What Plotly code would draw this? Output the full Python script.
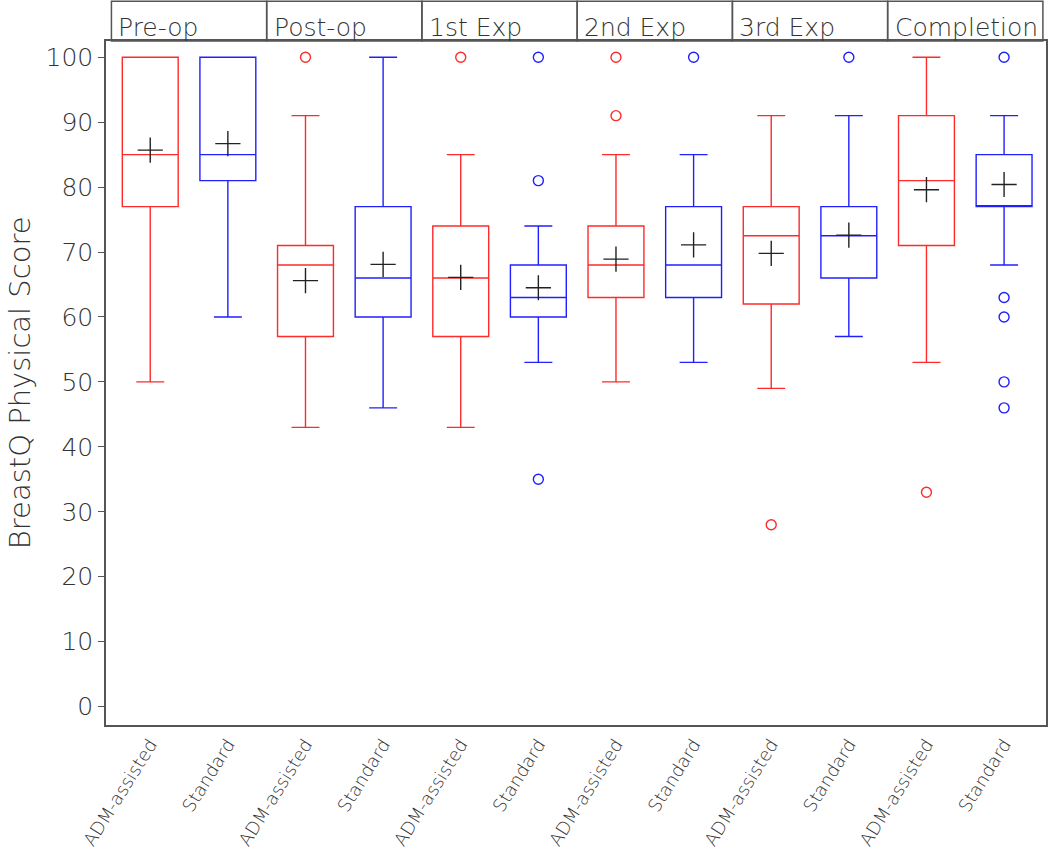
import plotly.graph_objects as go

# ---- data ----
groups = ["Pre-op", "Post-op", "1st Exp", "2nd Exp", "3rd Exp", "Completion"]
techniques = ["ADM-assisted", "Standard"]

adm_q1 = [77, 57, 57, 63, 62, 71]
adm_median = [85, 68, 66, 68, 72.5, 81]
adm_q3 = [100, 71, 74, 74, 77, 91]
adm_low = [50, 43, 43, 50, 49, 53]
adm_high = [100, 91, 85, 85, 91, 100]
adm_mean = [85.7, 65.6, 66.1, 68.9, 69.8, 79.6]
adm_outliers = [[], [100], [100], [100, 91], [28], [33]]

std_q1 = [81, 60, 60, 63, 66, 77]
std_median = [85, 66, 63, 68, 72.5, 77]
std_q3 = [100, 77, 68, 77, 77, 85]
std_low = [60, 46, 53, 53, 57, 68]
std_high = [100, 100, 74, 85, 91, 91]
std_mean = [86.7, 68.1, 64.5, 71.1, 72.6, 80.4]
std_outliers = [[], [], [100, 81, 35], [100], [100], [100, 63, 60, 50, 46]]

y_ticks = [0, 10, 20, 30, 40, 50, 60, 70, 80, 90, 100]
y_title = "BreastQ Physical Score"

# ---- style ----
FONT = "DejaVu Sans"
TXT = "#333333"
AX = "#555555"
RED = "#ff2a2a"
BLUE = "#2020ff"

W, H = 1050, 852
ML, MR, MT, MB = 106, 2, 41, 124
plot_h = H - MT - MB
plot_w = W - ML - MR
XR = [-0.57, 11.54]

fig = go.Figure()

series = [
    (0, RED, adm_q1, adm_median, adm_q3, adm_low, adm_high, adm_mean, adm_outliers),
    (1, BLUE, std_q1, std_median, std_q3, std_low, std_high, std_mean, std_outliers),
]

for t, color, q1, med, q3, lo, hi, mean, outs in series:
    pos = [2 * g + t for g in range(len(groups))]
    fig.add_trace(go.Box(
        x=pos, q1=q1, median=med, q3=q3, lowerfence=lo, upperfence=hi,
        width=0.72, whiskerwidth=0.5, boxpoints=False,
        fillcolor="rgba(0,0,0,0)", line=dict(color=color, width=1.4),
        name=techniques[t], showlegend=False,
    ))
    ox, oy = [], []
    for g, vals in enumerate(outs):
        for v in vals:
            ox.append(2 * g + t)
            oy.append(v)
    fig.add_trace(go.Scatter(
        x=ox, y=oy, mode="markers", showlegend=False,
        marker=dict(symbol="circle-open", size=10, color=color, line=dict(width=1.4)),
    ))
    fig.add_trace(go.Scatter(
        x=pos, y=mean, mode="markers", showlegend=False,
        marker=dict(symbol="cross-thin-open", size=18, color="#222222",
                    line=dict(width=1.4, color="#222222")),
    ))

# ---- header panels ----
top_paper = 1 + (MT - 1) / plot_h
shapes = []
annotations = []
for g, name in enumerate(groups):
    x0 = max(XR[0], 2 * g - 0.5)
    x1 = min(XR[1], 2 * g + 1.5)
    shapes.append(dict(type="rect", xref="x", yref="paper", x0=x0, x1=x1,
                       y0=1, y1=top_paper, line=dict(color=AX, width=1.5),
                       fillcolor="rgba(0,0,0,0)", layer="above"))
    annotations.append(dict(x=x0, y=1 + 13.5 / plot_h, xref="x", yref="paper",
                            text=name, showarrow=False, xanchor="left", yanchor="middle",
                            xshift=5, font=dict(family=FONT, size=25, color=TXT, weight=200)))

# y-axis title as a rotated annotation (placed further left than the axis title allows)
annotations.append(dict(x=-(ML - 1) / plot_w, y=0.5, xref="paper", yref="paper",
                        text=y_title, showarrow=False, textangle=-90,
                        xanchor="left", yanchor="middle",
                        font=dict(family=FONT, size=29, color=TXT, weight=200)))

fig.update_layout(
    width=W, height=H,
    margin=dict(l=ML, r=MR, t=MT, b=MB),
    paper_bgcolor="white", plot_bgcolor="white",
    shapes=shapes, annotations=annotations,
    font=dict(family=FONT, color=TXT),
    boxmode="overlay",
)

fig.update_xaxes(
    range=XR, tickmode="array", tickvals=list(range(12)),
    ticktext=[techniques[i % 2] for i in range(12)],
    tickangle=-58, ticks="", showgrid=False, zeroline=False,
    showline=True, mirror=True, linecolor=AX, linewidth=1.5,
    tickfont=dict(family=FONT, size=18, color=TXT, weight=200),
)
fig.update_yaxes(
    range=[-2.84, 102.5], tickmode="array", tickvals=y_ticks,
    ticks="outside", ticklen=6, tickcolor=AX, tickwidth=1.3,
    showgrid=False, zeroline=False,
    showline=True, mirror=True, linecolor=AX, linewidth=1.5,
    tickfont=dict(family=FONT, size=25, color=TXT, weight=200),
)

# remove the page's default body margin so the figure fills the window exactly
fig.write_html("out.html", config={"displayModeBar": False},
               post_script="document.body.style.margin='0';document.body.style.overflow='hidden';")
